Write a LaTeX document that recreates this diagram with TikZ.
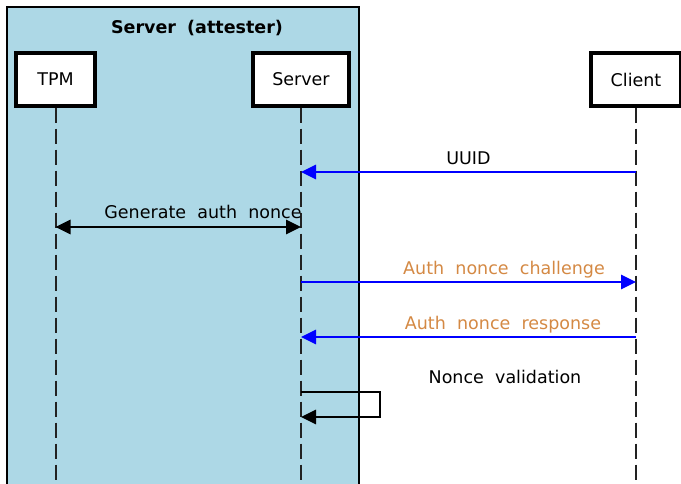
\documentclass[tikz,border=0pt]{standalone}
\usepackage{fontspec}
\setmainfont{DejaVu Sans}
\usetikzlibrary{arrows.meta}
\definecolor{grpfill}{RGB}{173,216,230}
\definecolor{msgorange}{RGB}{212,137,68}
\definecolor{lifegray}{RGB}{34,34,34}
\tikzset{
  x=1pt, y=-1pt,
  txt/.style={font=\fontsize{17.5}{20}\selectfont},
  actor/.style={txt, draw, line width=3.3pt, fill=white, minimum width=#1, minimum height=53pt, inner sep=0pt},
  lifeline/.style={draw=lifegray, line width=2pt, dash pattern=on 15pt off 6pt},
  tip/.style={-{Triangle[length=15pt,width=14.5pt]}},
  msglabel/.style={txt, inner sep=0pt, anchor=base},
  bluemsg/.style={tip, draw=blue, fill=blue, line width=1.3pt},
  blackmsg/.style={draw=black, line width=1.5pt}
}
\newcommand{\wsp}{\hspace{0.64em}}
\begin{document}
\begin{tikzpicture}
\useasboundingbox (0,0) rectangle (681,484);
% participant group
\fill[grpfill] (7,7) rectangle (359,490);
\draw[line width=1.5pt] (7,490) -- (7,7) -- (359,7) -- (359,490);
\node[msglabel, font=\bfseries\fontsize{17.5}{20}\selectfont] (grptitle) at (197,33.5) {Server\wsp(attester)};
% participants
\node[actor=79pt] (tpm) at (55.5,79.5) {TPM};
\node[actor=96pt] (srv) at (301,79.5) {Server};
\node[actor=90pt] (cli) at (636,79.5) {Client};
% lifelines
\coordinate (tpmend) at (55.5,490);
\coordinate (srvend) at (301,490);
\coordinate (cliend) at (636,490);
\draw[lifeline] (tpm.south) -- (tpmend);
\draw[lifeline] (srv.south) -- (srvend);
\draw[lifeline] (cli.south) -- (cliend);
% message anchors on lifelines
\coordinate (s1) at (301,172); \coordinate (c1) at (636,172);
\coordinate (t2) at (55.5,227); \coordinate (s2) at (301,227);
\coordinate (s3) at (301,282); \coordinate (c3) at (636,282);
\coordinate (s4) at (301,337); \coordinate (c4) at (636,337);
\coordinate (s5) at (301,392); \coordinate (s6) at (301,417);
% messages
\draw[bluemsg] (c1) -- (s1);
\node[msglabel] (l1) at (468.5,164.3) {UUID};
\draw[blackmsg, {Triangle[length=15pt,width=14.5pt]}-{Triangle[length=15pt,width=14.5pt]}] (t2) -- (s2);
\node[msglabel] (l2) at (203,218.3) {Generate\wsp auth\wsp nonce};
\draw[bluemsg] (s3) -- (c3);
\node[msglabel, text=msgorange] (l3) at (504,274.3) {Auth\wsp nonce\wsp challenge};
\draw[bluemsg] (c4) -- (s4);
\node[msglabel, text=msgorange] (l4) at (503,329.3) {Auth\wsp nonce\wsp response};
\node[msglabel] (l5) at (505,383.3) {Nonce\wsp validation};
\draw[blackmsg, tip] (s5) -- (380,392) -- (380,417) -- (s6);
\end{tikzpicture}
\end{document}
